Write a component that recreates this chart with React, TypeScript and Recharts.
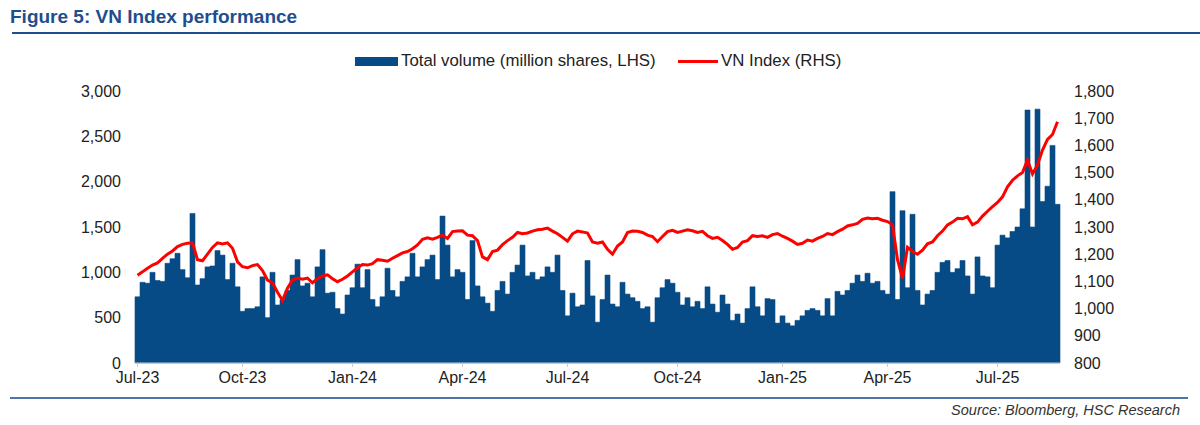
import { ComposedChart, Bar, Line, XAxis, YAxis } from 'recharts';

// Roughly 4 trading days per point, Jul-2023 .. end Aug-2025
const volume = [
  730, 890, 880, 1000, 910, 900, 1100, 1150, 1210, 1030,
  940, 1650, 860, 930, 1060, 1070, 1240, 1190, 920, 1100,
  840, 570, 600, 600, 620, 950, 500, 1000, 640, 700,
  800, 970, 1140, 850, 880, 730, 1060, 1250, 770, 780,
  600, 540, 750, 830, 1090, 830, 1030, 700, 620, 730,
  1045, 800, 730, 900, 950, 1210, 950, 1060, 1140, 1190,
  920, 1620, 1300, 950, 1030, 1000, 700, 1350, 850, 730,
  660, 570, 800, 900, 760, 1000, 1080, 1300, 960, 1000,
  920, 950, 1060, 1000, 1190, 800, 520, 770, 620, 640,
  1130, 740, 450, 700, 970, 650, 620, 890, 760, 720,
  680, 600, 620, 450, 720, 830, 920, 880, 780, 640,
  720, 620, 680, 600, 840, 650, 560, 750, 650, 470,
  540, 440, 600, 840, 620, 520, 710, 700, 440, 520,
  440, 410, 470, 520, 580, 600, 580, 520, 710, 520,
  790, 750, 800, 880, 970, 900, 990, 880, 900, 800,
  760, 1890, 700, 1680, 830, 1640, 800, 640, 760, 800,
  1000, 1110, 1130, 1000, 1040, 1130, 960, 760, 1170, 960,
  950, 830, 1300, 1410, 1380, 1450, 1500, 1700, 2790, 1500,
  2800, 1780, 1950, 2400, 1750,
];

const vnIndex = [
  1123, 1135, 1148, 1160, 1168, 1185, 1200, 1212, 1228, 1236,
  1240, 1242, 1180, 1176, 1200, 1225, 1242, 1238, 1242, 1222,
  1172, 1154, 1150, 1158, 1162, 1140, 1105, 1095, 1060, 1030,
  1075, 1105, 1112, 1108, 1112, 1095, 1110, 1120, 1124, 1110,
  1099, 1108, 1120, 1135, 1150, 1162, 1160, 1165, 1180, 1178,
  1174, 1185, 1195, 1205, 1210, 1220, 1234, 1255, 1260, 1255,
  1262, 1270, 1258, 1283, 1285, 1286, 1270, 1268, 1250, 1190,
  1180, 1210, 1215, 1235, 1250, 1262, 1280, 1275, 1278, 1285,
  1290, 1292, 1296, 1285, 1275, 1262, 1248, 1275, 1285, 1282,
  1278, 1245, 1240, 1245, 1218, 1200, 1230, 1245, 1280, 1285,
  1284, 1280, 1270, 1265, 1246, 1265, 1283, 1288, 1280, 1285,
  1290, 1286, 1280, 1284, 1268, 1258, 1262, 1250, 1236, 1218,
  1225, 1245, 1250, 1268, 1265, 1268, 1262, 1272, 1276, 1266,
  1258, 1248, 1236, 1240, 1252, 1248, 1258, 1265, 1276, 1272,
  1283, 1292, 1304, 1308, 1313, 1328, 1333, 1330, 1332, 1325,
  1320, 1308, 1180, 1111, 1225, 1210, 1200, 1215, 1238, 1245,
  1268, 1285, 1308, 1318, 1332, 1330, 1338, 1308, 1318, 1340,
  1358, 1375, 1390, 1411, 1448, 1472, 1488, 1500, 1546, 1495,
  1528, 1583, 1622, 1640, 1687,
];

const tickIdx = [0, 21, 43, 65, 86, 108, 129, 150, 172];
const tickLabels = ['Jul-23', 'Oct-23', 'Jan-24', 'Apr-24', 'Jul-24', 'Oct-24', 'Jan-25', 'Apr-25', 'Jul-25'];
const leftTicks = [0, 500, 1000, 1500, 2000, 2500, 3000];
const rightTicks = [800, 900, 1000, 1100, 1200, 1300, 1400, 1500, 1600, 1700, 1800];

const BLUE = '#064a86';
const RED = '#ff0000';
const FONT = '"Liberation Sans", Arial, sans-serif';

const data = volume.map((v, i) => ({ i, vol: v, idx: vnIndex[i] }));

const fmt = (v: number) => v.toLocaleString('en-US');

export default function App() {
  const tickStyle = { fontSize: 16, fill: '#222', fontFamily: FONT };
  return (
    <div style={{ position: 'absolute', left: 0, top: 0, width: 1200, height: 425, background: '#fff', fontFamily: FONT }}>
      <div style={{ position: 'absolute', left: 10, top: 6, fontSize: 19, fontWeight: 'bold', color: '#1f4e8c' }}>
        Figure 5: VN Index performance
      </div>
      <div style={{ position: 'absolute', left: 12, top: 32, width: 1188, height: 2, background: '#1f4e8c' }} />

      {/* legend */}
      <div style={{ position: 'absolute', left: 355, top: 57, width: 43, height: 9, background: BLUE }} />
      <div style={{ position: 'absolute', left: 401, top: 51, fontSize: 16.8, color: '#222' }}>
        Total volume (million shares, LHS)
      </div>
      <div style={{ position: 'absolute', left: 678, top: 60, width: 40, height: 3, background: RED }} />
      <div style={{ position: 'absolute', left: 721, top: 51, fontSize: 16.8, color: '#222' }}>
        VN Index (RHS)
      </div>

      <div style={{ position: 'absolute', left: 0, top: 0 }}>
        <ComposedChart
          width={1200}
          height={395}
          data={data}
          margin={{ top: 91, right: 0, bottom: 2, left: 0 }}
          barCategoryGap={0}
          barGap={0}
        >
          <XAxis
            dataKey="i"
            ticks={tickIdx}
            interval={0}
            tickFormatter={(v) => tickLabels[tickIdx.indexOf(v)] ?? ''}
            tick={tickStyle}
            tickLine={{ stroke: '#c5ccd6' }}
            tickSize={4}
            tickMargin={5}
            axisLine={{ stroke: '#c5ccd6' }}
            height={30}
          />
          <YAxis
            yAxisId="left"
            domain={[0, 3000]}
            ticks={leftTicks}
            tickFormatter={fmt}
            tick={tickStyle}
            tickLine={false}
            axisLine={false}
            tickMargin={8}
            width={135}
            interval={0}
          />
          <YAxis
            yAxisId="right"
            orientation="right"
            domain={[800, 1800]}
            ticks={rightTicks}
            tickFormatter={fmt}
            tick={tickStyle}
            tickLine={false}
            axisLine={false}
            tickMargin={8}
            width={140}
            interval={0}
          />
          <Bar
            yAxisId="left"
            dataKey="vol"
            fill={BLUE}
            stroke={BLUE}
            strokeWidth={0.6}
            isAnimationActive={false}
          />
          <Line
            yAxisId="right"
            dataKey="idx"
            type="linear"
            stroke={RED}
            strokeWidth={3}
            dot={false}
            isAnimationActive={false}
          />
        </ComposedChart>
      </div>

      <div style={{ position: 'absolute', left: 10, top: 397, width: 1178, height: 2, background: '#4f74a8' }} />
      <div style={{ position: 'absolute', right: 20, top: 402, fontSize: 14.5, fontStyle: 'italic', color: '#333' }}>
        Source: Bloomberg, HSC Research
      </div>
    </div>
  );
}
